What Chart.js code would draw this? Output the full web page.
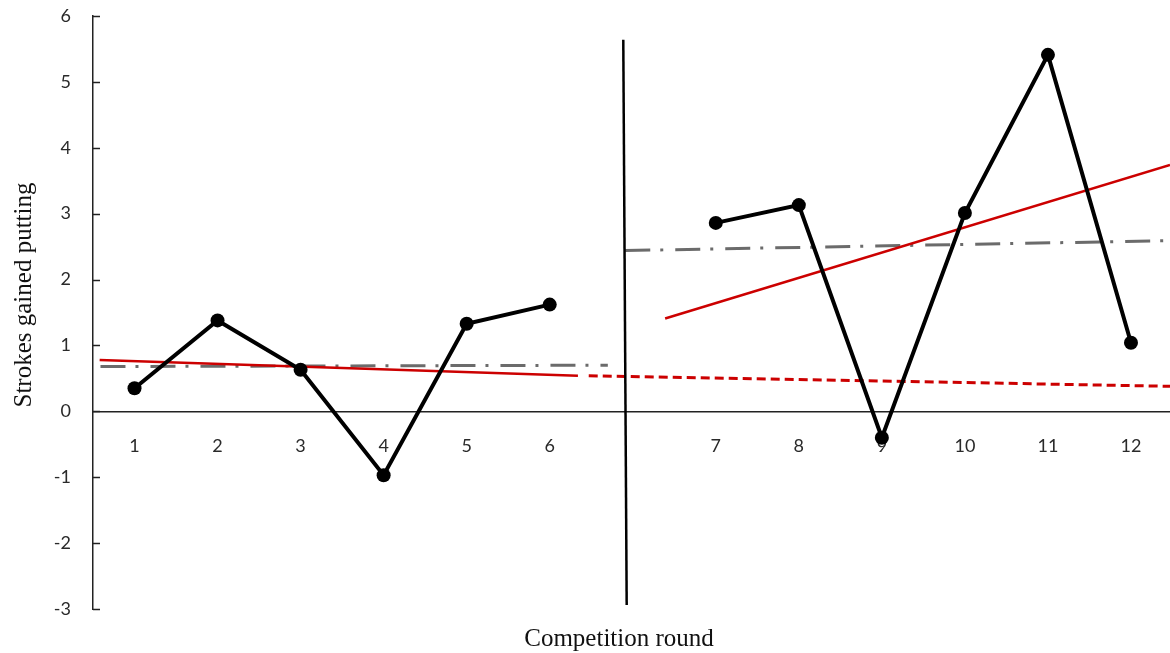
<!DOCTYPE html>
<html><head><meta charset="utf-8">
<script src="https://cdn.jsdelivr.net/npm/chart.js@4.4.0/dist/chart.umd.min.js"></script>
<style>html,body{margin:0;padding:0;background:#fff;overflow:hidden}</style>
</head><body>
<canvas id="c" width="1170" height="653"></canvas>
<script>
// ---- data ----
const roundLabels = ['1','2','3','4','5','6','7','8','9','10','11','12'];
const roundPositions = [1,2,3,4,5,6,8,9,10,11,12,13]; // slot 7 is the break between phases
const strokesGained = [0.35,1.38,0.63,-0.97,1.33,1.62,2.86,3.13,-0.40,3.01,5.41,1.04];
const yTickValues = [-3,-2,-1,0,1,2,3,4,5,6];

const redPreX = [0.58, 6.34];   const redPreY = [0.78, 0.54];
const redProjX = [6.47, 13.47]; const redProjY = [0.54, 0.38];
const redPostX = [7.39, 13.47]; const redPostY = [1.41, 3.74];
const grayPreX = [0.59, 6.70];  const grayPreY = [0.68, 0.70];
const grayPostX = [6.91, 13.47]; const grayPostY = [2.44, 2.59];
const dividerX = [6.886, 6.927]; const dividerY = [5.64, -2.94];

const xTitle = 'Competition round';
const yTitle = 'Strokes gained putting';

// ---- build ----
const pairs = (xs, ys) => xs.map((x, i) => ({x, y: ys[i]}));
const mainPts = [];
roundPositions.forEach((p, i) => {
  if (i > 0 && p - roundPositions[i-1] > 1) mainPts.push({x: p - 1, y: null});
  mainPts.push({x: p, y: strokesGained[i]});
});
const labelFor = {};
roundPositions.forEach((p, i) => labelFor[p] = roundLabels[i]);

const extras = {
  id: 'extras',
  afterDraw(chart) {
    const {ctx, scales: {x, y}, chartArea} = chart;
    ctx.save();
    // inward ticks on y axis
    ctx.strokeStyle = '#222'; ctx.lineWidth = 1.5;
    yTickValues.forEach(v => {
      const py = Math.round(y.getPixelForValue(v)) + 0.5;
      ctx.beginPath(); ctx.moveTo(chartArea.left, py); ctx.lineTo(chartArea.left + 7, py); ctx.stroke();
    });
    // titles
    ctx.fillStyle = '#111';
    ctx.font = '25px "Liberation Serif", "Times New Roman", serif';
    ctx.textAlign = 'center'; ctx.textBaseline = 'alphabetic';
    ctx.fillText(xTitle, 619, 646);
    ctx.translate(31, 295); ctx.rotate(-Math.PI / 2);
    ctx.fillText(yTitle, 0, 0);
    ctx.restore();
  }
};

const gray = '#6b6b6b', red = '#cc0000';
new Chart(document.getElementById('c'), {
  type: 'line',
  data: {
    datasets: [
      {label: 'SG putting', data: mainPts, borderColor: '#000', backgroundColor: '#000', borderWidth: 4,
       pointRadius: 7, pointBackgroundColor: '#000', pointBorderWidth: 0, spanGaps: false, tension: 0},
      {label: 'divider', data: pairs(dividerX, dividerY), borderColor: '#000', borderWidth: 2.5, pointRadius: 0},
      {label: 'red pre', data: pairs(redPreX, redPreY), borderColor: red, borderWidth: 2.5, pointRadius: 0},
      {label: 'red proj', data: pairs(redProjX, redProjY), borderColor: red, borderWidth: 3, borderDash: [9, 5], pointRadius: 0},
      {label: 'red post', data: pairs(redPostX, redPostY), borderColor: red, borderWidth: 2.5, pointRadius: 0},
      {label: 'gray pre', data: pairs(grayPreX, grayPreY), borderColor: gray, borderWidth: 3, borderDash: [25, 10, 3, 12], pointRadius: 0},
      {label: 'gray post', data: pairs(grayPostX, grayPostY), borderColor: gray, borderWidth: 3, borderDash: [25, 10, 3, 12], pointRadius: 0}
    ]
  },
  options: {
    responsive: false, animation: false,
    layout: {autoPadding: false, padding: {top: 16, bottom: 44, left: 0, right: 0}},
    plugins: {legend: {display: false}, tooltip: {enabled: false}},
    elements: {line: {borderCapStyle: 'butt'}},
    scales: {
      x: {
        type: 'linear', position: {y: 0}, min: 0.5, max: 13.47,
        afterBuildTicks: s => { s.ticks = roundPositions.map(v => ({value: v})); },
        afterFit: s => { s.height = 0; s.paddingLeft = 0; s.paddingRight = 0; s.paddingTop = 0; s.paddingBottom = 0; },
        grid: {drawOnChartArea: false, drawTicks: false},
        border: {display: true, color: '#222', width: 1.5},
        ticks: {autoSkip: false, maxRotation: 0, padding: 24, color: '#2a2a2a',
                font: {family: 'Lato, "Open Sans", sans-serif', size: 18},
                callback: v => labelFor[v] ?? ''}
      },
      y: {
        type: 'linear', position: 'left', min: -3, max: 6,
        afterBuildTicks: s => { s.ticks = yTickValues.map(v => ({value: v})); },
        afterFit: s => { s.width = 93; s.paddingLeft = 0; s.paddingRight = 0; s.paddingTop = 0; s.paddingBottom = 0; },
        grid: {drawOnChartArea: false, drawTicks: false},
        border: {display: true, color: '#222', width: 1.5},
        ticks: {padding: 22, color: '#2a2a2a', font: {family: 'Lato, "Open Sans", sans-serif', size: 18}}
      }
    }
  },
  plugins: [extras]
});
</script>
</body></html>
